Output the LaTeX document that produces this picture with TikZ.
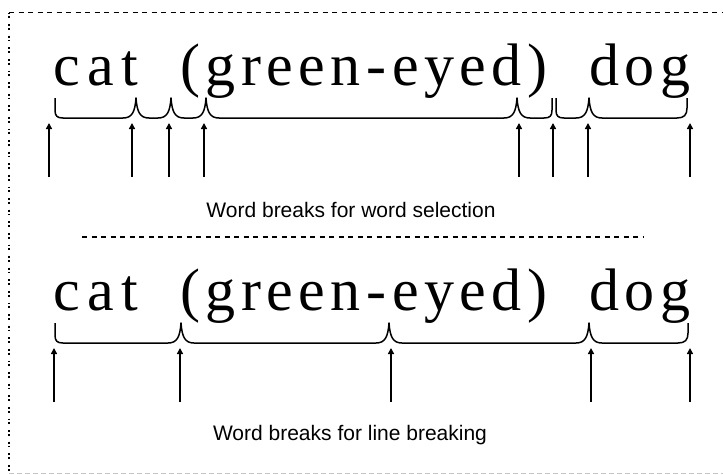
\documentclass[tikz,border=0pt]{standalone}
\usepackage{fontspec}
\usetikzlibrary{arrows.meta}
\newfontfamily\bigserif[LetterSpace=9.2]{Liberation Serif}
\newfontfamily\bigserifw[LetterSpace=12]{Liberation Serif}
\newfontfamily\lblfont{Liberation Sans}
\begin{document}
\begin{tikzpicture}[x=1pt,y=-1pt,
  word/.style={inner sep=0pt,anchor=base west,font=\bigserif\fontsize{60}{60}\selectfont},
  wordw/.style={inner sep=0pt,anchor=base west,font=\bigserifw\fontsize{60}{60}\selectfont},
  lbl/.style={inner sep=0pt,anchor=base,font=\lblfont\fontsize{21}{21}\selectfont},
  brace/.style={line width=1.5pt,line join=round},
  arr/.style={line width=1.8pt,-{Triangle[width=6pt,length=6pt]}},
  frame/.style={line width=1.2pt,dash pattern=on 5pt off 4.5pt}]
\useasboundingbox (0,0) rectangle (723,474);
% frame
\draw[frame] (9,12.5) -- (723,12.5);
\draw[line width=1.3pt,dash pattern=on 1.8pt off 2pt on 1.8pt off 6pt] (9,12.5) -- (9,472);
\draw[line width=1pt,gray!45,dash pattern=on 5pt off 3pt] (9,473) -- (723,473);
% ---------- top line ----------
\node[wordw] (t1) at (53.5,85) {cat};
\node[word] (t2) at (180,85) {(green-eyed)};
\node[word] (t3) at (589,85) {dog};
\draw[brace] (55,98) -- (55,110) .. controls (55,116) and (57,118) .. (63,118)
 -- (123,118) .. controls (132,118) and (135,112) .. (136,98)
 .. controls (137,112) and (140,118) .. (149,118)
 -- (158,118) .. controls (167,118) and (170,112) .. (171,98)
 .. controls (172,112) and (175,118) .. (184,118)
 -- (193,118) .. controls (202,118) and (205,112) .. (206,98)
 .. controls (207,112) and (210,118) .. (219,118)
 -- (504,118) .. controls (513,118) and (516,112) .. (517,98)
 .. controls (518,112) and (521,118) .. (530,118)
 -- (544,118) .. controls (550,118) and (552,116) .. (552,110) -- (552,98);
\draw[brace] (556,98) -- (556,110) .. controls (556,116) and (558,118) .. (564,118)
 -- (576,118) .. controls (585,118) and (588,112) .. (589,98)
 .. controls (590,112) and (593,118) .. (602,118)
 -- (677,118) .. controls (684,118) and (687,115) .. (687,108) -- (687,98);
\foreach \i/\x in {1/49,2/132,3/169,4/204,5/519,6/553,7/588,8/690}{
  \coordinate (ta\i) at (\x,177);
  \coordinate (ha\i) at (\x,123);
  \draw[arr] (ta\i) -- (ha\i);
}
\node[lbl] (l1) at (351,217) {Word breaks for word selection};
\coordinate (s1) at (82,237);
\coordinate (s2) at (643,237);
\draw[frame] (s1) -- (s2);
% ---------- bottom line ----------
\node[wordw] (b1) at (53.5,310) {cat};
\node[word] (b2) at (180,310) {(green-eyed)};
\node[word] (b3) at (589,310) {dog};
\draw[brace] (55,323) -- (55,335) .. controls (55,341) and (57,343) .. (63,343)
 -- (168,343) .. controls (177,343) and (180,337) .. (181,323)
 .. controls (182,337) and (185,343) .. (194,343)
 -- (376,343) .. controls (385,343) and (388,337) .. (389,323)
 .. controls (390,337) and (393,343) .. (402,343)
 -- (576,343) .. controls (585,343) and (588,337) .. (589,323)
 .. controls (590,337) and (593,343) .. (602,343)
 -- (678,343) .. controls (685,343) and (688,340) .. (688,333) -- (688,323);
\foreach \i/\x in {1/54,2/180,3/391,4/591,5/690}{
  \coordinate (tb\i) at (\x,402);
  \coordinate (hb\i) at (\x,348);
  \draw[arr] (tb\i) -- (hb\i);
}
\node[lbl] (l2) at (350,440) {Word breaks for line breaking};
\end{tikzpicture}
\end{document}
